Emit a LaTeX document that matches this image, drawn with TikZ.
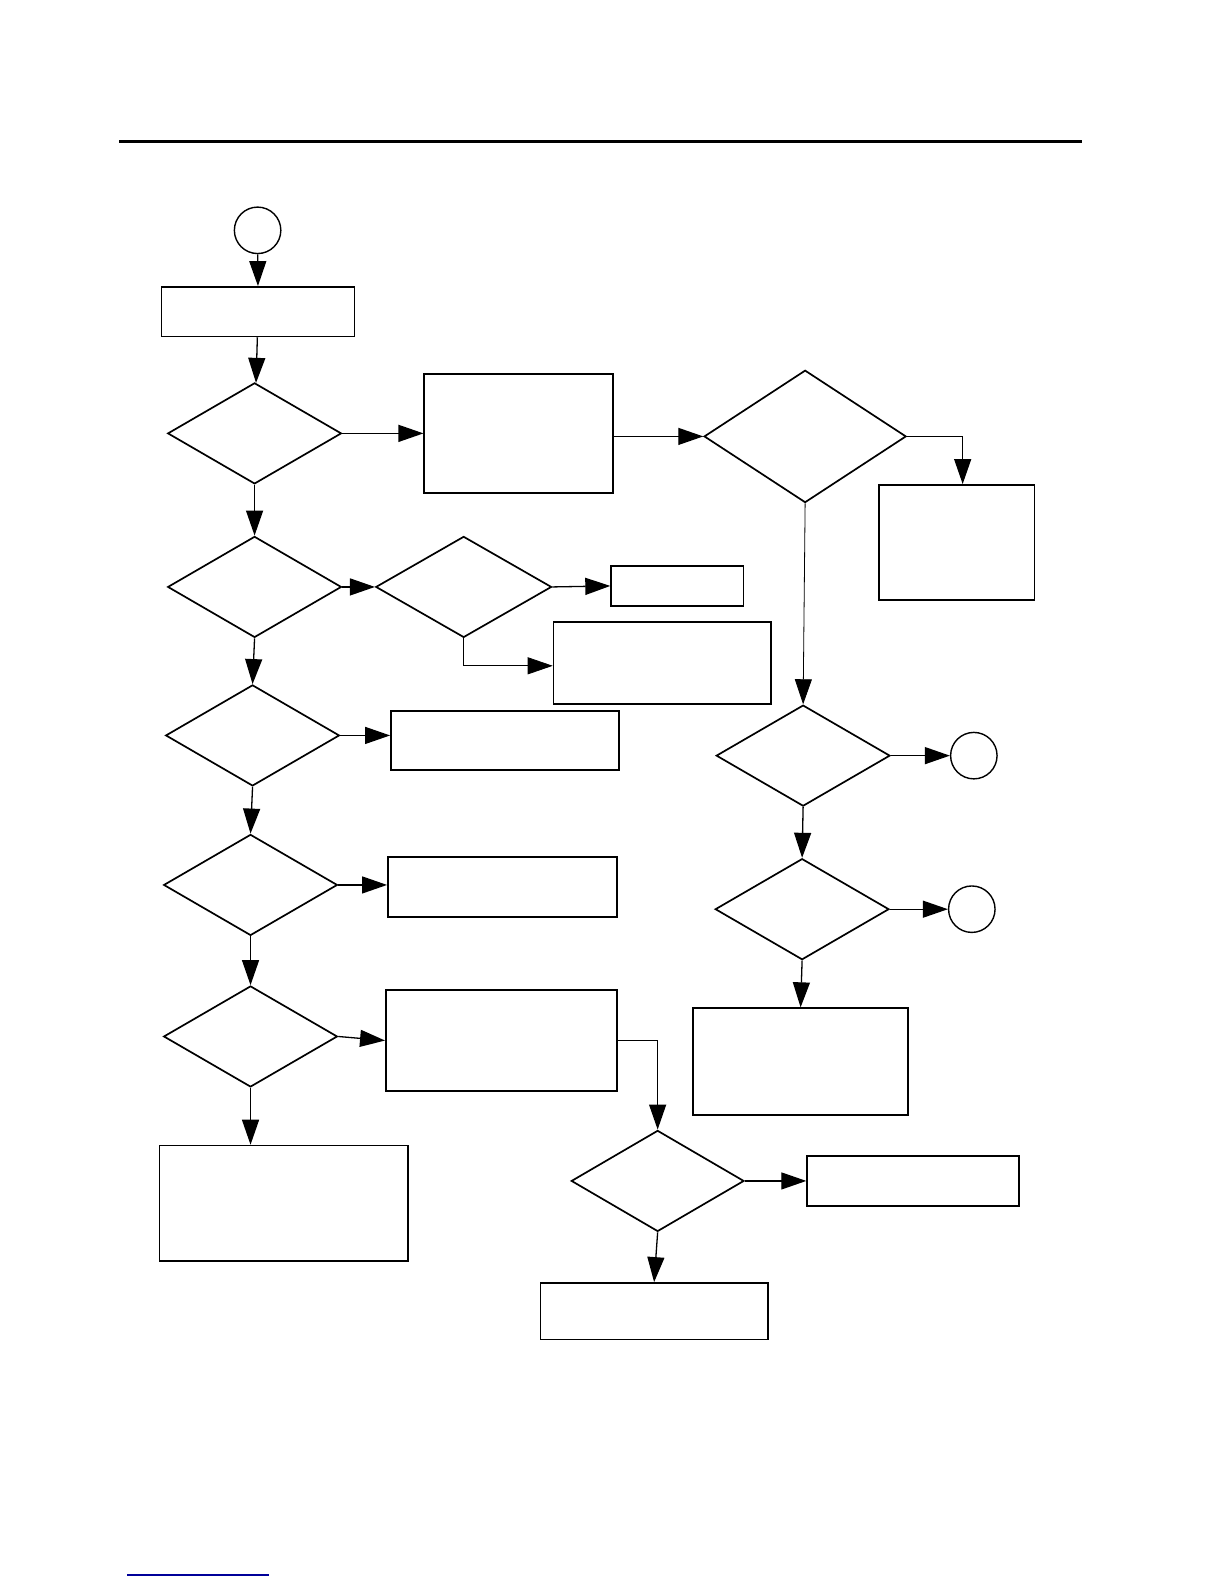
\documentclass[tikz,border=0pt]{standalone}
\usetikzlibrary{shapes.geometric,arrows.meta}

\begin{document}
\begin{tikzpicture}[x=0.505pt,y=-0.505pt,
    box/.style 2 args={draw,line width=0.85pt,minimum width=#1*0.505pt,minimum height=#2*0.505pt,inner sep=0pt},
    test/.style 2 args={draw,diamond,line width=0.85pt,minimum width=#1*0.505pt,minimum height=#2*0.505pt,inner sep=0pt},
    term/.style={draw,circle,line width=0.7pt,minimum size=46*0.505pt,inner sep=0pt},
    flow/.style={line width=0.65pt,-{Triangle[length=12.5pt,width=8.5pt]}},
    thin/.style={line width=0.4pt,-{Triangle[length=12.5pt,width=8.5pt]}}]
    \useasboundingbox (0,0) rectangle (1212,1568);
    \draw[line width=1.3pt] (118,140) -- (1071,140);
    \draw[blue!60!black,line width=0.6pt] (126,1559) -- (266,1559);

    \draw (255,228) node[term] (start) {};
    \draw (255.5,308.5) node[box={191}{49}] (init) {};
    \draw (252,429) node[test={172}{100}] (q1) {};
    \draw (513.5,429) node[box={187}{118}] (act1) {};
    \draw (797,432) node[test={200}{131}] (q2) {};
    \draw (947,537) node[box={154}{114}] (act2) {};
	\draw (252,581) node[test={172}{100}] (q3) {};
	\draw (459,581) node[test={174}{100}] (q4) {};
	\draw (670.5,580) node[box={131}{40}] (act3) {};
	\draw (655.5,656.5) node[box={215}{81}] (act4) {};
	\draw (250,728) node[test={172}{100}] (q5) {};
	\draw (500,733) node[box={226}{58}] (act5) {};
	\draw (248,876) node[test={172}{100}] (q6) {};
	\draw (497.5,878) node[box={227}{60}] (act6) {};
	\draw (248,1026) node[test={172}{100}] (q7) {};
	\draw (496.5,1030) node[box={229}{100}] (act7) {};
	\draw (281,1191) node[box={246}{114}] (act8) {};
    \draw (651,1169) node[test={171}{100}] (q8) {};
    \draw (904,1169) node[box={210}{50}] (act9) {};
    \draw (647.5,1298) node[box={225}{56}] (act10) {};
    \draw (795,748) node[test={172}{100}] (q9) {};
    \draw (964,748) node[term] (endA) {};
    \draw (794,900) node[test={172}{100}] (q10) {};
    \draw (962,900) node[term] (endB) {};
    \draw (792.5,1051) node[box={213}{106}] (act11) {};

    \draw[flow] (start) -- (init);
    \draw[flow] (init) -- (q1);
    \draw[flow] (q1.east) -- (act1.west);
    \draw[flow] (act1.east |- q2) -- (q2.west);
    \draw[flow] (q2.east) -| ([xshift=3pt]act2.north);
    \draw[thin] (q2.south) -- (q9.north);
    \draw[flow] (q9.east) -- (endA.west);
    \draw[flow] (q9.south) -- (q10.north);
    \draw[flow] (q10.east) -- (endB.west);
    \draw[flow] (q10.south) -- (act11.north);
    \draw[flow] (q1.south) -- (q3.north);
    \draw[flow] (q3.east) -- (q4.west);
    \draw[flow] (q4.east) -- (act3.west);
    \draw[thin] (q4.south) |- ([yshift=-1.3pt]act4.west);
    \draw[flow] (q3.south) -- (q5.north);
    \draw[flow] (q5.east) -- (q5.east -| act5.west);
    \draw[flow] (q5.south) -- (q6.north);
    \draw[flow] (q6.east) -- (q6.east -| act6.west);
    \draw[flow] (q6.south) -- (q7.north);
    \draw[flow] (q7.east) -- (act7.west);
    \draw[flow] (q7.south) -- (q7.south |- act8.north);
    \draw[flow] (act7.east) -| (q8.north);
    \draw[flow] (q8.east) -- (act9.west);
    \draw[flow] (q8.south) -- (act10.north);
\end{tikzpicture}
\end{document}
